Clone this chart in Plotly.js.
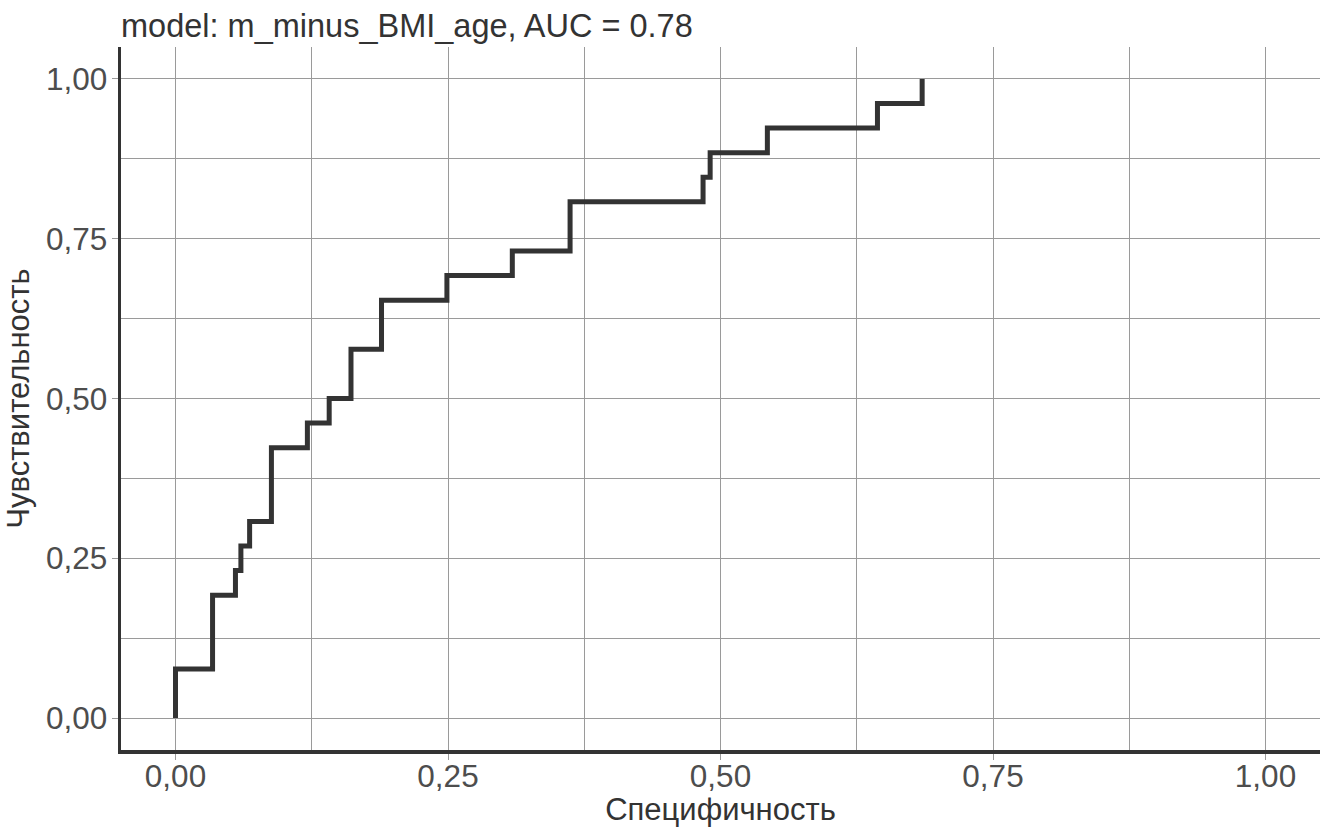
<!DOCTYPE html>
<html>
<head>
<meta charset="utf-8">
<script src="https://cdn.plot.ly/plotly-3.0.1.min.js"></script>
<style>
html,body{margin:0;padding:0;background:#fff;}
#chart{width:1327px;height:827px;}
</style>
</head>
<body>
<div id="chart"></div>
<script>
// ROC step curve (x = 1 - specificity, y = sensitivity)
const chartTitle = "model: m_minus_BMI_age, AUC = 0.78";
const xTitle = "Специфичность";
const yTitle = "Чувствительность";
const fpr = [0, 0.034, 0.055, 0.060, 0.068, 0.088, 0.121, 0.141, 0.161, 0.189, 0.249, 0.309, 0.362, 0.484, 0.4905, 0.543, 0.644, 0.685, 0.685];
const tprCounts = [0, 2, 5, 6, 7, 8, 11, 12, 13, 15, 17, 18, 19, 21, 22, 23, 24, 25, 26];
const nPositives = 26;
const tpr = tprCounts.map(c => c / nPositives);
const tickVals = [0, 0.25, 0.5, 0.75, 1];

const font = "'Liberation Sans', Arial, Helvetica, sans-serif";

const trace = {
  x: fpr,
  y: tpr,
  type: "scatter",
  mode: "lines",
  line: {shape: "vh", color: "#333333", width: 5},
  hoverinfo: "skip"
};

const axisCommon = {
  range: [-0.05, 1.05],
  tickmode: "array",
  tickvals: tickVals,
  tickformat: ".2f",
  showgrid: true,
  gridcolor: "#9a9a9a",
  gridwidth: 1,
  minor: {dtick: 0.125, tick0: 0, showgrid: true, gridcolor: "#9a9a9a", gridwidth: 1},
  zeroline: false,
  showline: true,
  linecolor: "#333333",
  linewidth: 3.5,
  ticks: "outside",
  ticklen: 6,
  tickwidth: 1,
  tickcolor: "#9a9a9a",
  tickfont: {family: font, size: 31.5, color: "#4d4d4d"},
  fixedrange: true
};

const layout = {
  width: 1327,
  height: 827,
  margin: {l: 121, r: 7, t: 47, b: 77},
  paper_bgcolor: "#ffffff",
  plot_bgcolor: "#ffffff",
  separators: ",.",
  showlegend: false,
  title: {
    text: chartTitle,
    font: {family: font, size: 32.5, color: "#333333"},
    xref: "paper", x: 0, xanchor: "left",
    yref: "container", y: 1 - 26/827, yanchor: "middle"
  },
  xaxis: Object.assign({}, axisCommon, {
    ticklabelstandoff: -10,
    title: {text: xTitle, font: {family: font, size: 31, color: "#333333"}, standoff: 6}
  }),
  yaxis: Object.assign({}, axisCommon, {
    ticklabelstandoff: -2,
    title: {text: yTitle, font: {family: font, size: 31, color: "#333333"}, standoff: 8}
  })
};

Plotly.newPlot("chart", [trace], layout, {displayModeBar: false, staticPlot: true});
</script>
</body>
</html>
